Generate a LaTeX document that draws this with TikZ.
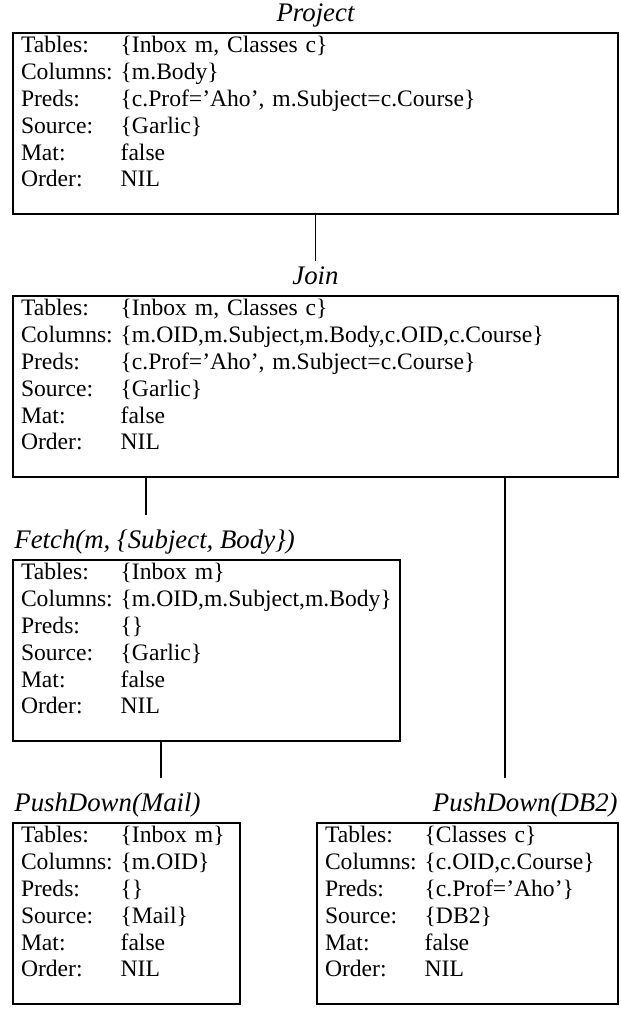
\documentclass[tikz,border=0pt]{standalone}
\usepackage{fontspec}
\setmainfont{Liberation Serif}
\usepackage{tikz}
\usetikzlibrary{positioning}
\newcommand{\opfields}[4]{%
  \begin{tabular}{@{}l@{\ }l@{}}
    Tables: & #1\\
    Columns: & #2\\
    Preds: & #3\\
    Source: & #4\\
    Mat: & false\\
    Order: & NIL\\[8.9pt]
  \end{tabular}}

\begin{document}
\begin{tikzpicture}[
  opbox/.style={draw, line width=1.2pt, inner xsep=4pt, inner ysep=0.6pt, outer sep=0pt, align=left, font=\fontsize{11.8pt}{13.4pt}\selectfont},
  optitle/.style={inner sep=0pt, font=\fontsize{13.4pt}{15pt}\selectfont\itshape},
  link/.style={line width=0.9pt},
  node distance=41pt
]
\useasboundingbox (0,0) rectangle (310.5pt,-504.5pt);

\node[opbox, text width=294.5pt, anchor=north west] (project) at (6.5pt,-16.5pt)
  {\opfields{\{Inbox m, Classes c\}}{\{m.Body\}}{\{c.Prof='Aho', m.Subject=c.Course\}}{\{Garlic\}}};
\node[opbox, text width=294.5pt, below=of project] (join)
  {\opfields{\{Inbox m, Classes c\}}{\{m.OID,m.Subject,m.Body,c.OID,c.Course\}}{\{c.Prof='Aho', m.Subject=c.Course\}}{\{Garlic\}}};
\node[opbox, text width=185.5pt, below=41.5pt of join.south west, anchor=north west] (fetch)
  {\opfields{\{Inbox m\}}{\{m.OID,m.Subject,m.Body\}}{\{\}}{\{Garlic\}}};
\node[opbox, text width=105.5pt, below=of fetch.south west, anchor=north west] (mail)
  {\opfields{\{Inbox m\}}{\{m.OID\}}{\{\}}{\{Mail\}}};
\node[opbox, text width=142.5pt, anchor=north east] (db2) at (mail.north -| join.east)
  {\opfields{\{Classes c\}}{\{c.OID,c.Course\}}{\{c.Prof='Aho'\}}{\{DB2\}}};

\node[optitle, above=6pt of project.north, anchor=base] (projectlbl) {Project};
\node[optitle, above=6pt of join.north, anchor=base] (joinlbl) {Join};
\node[optitle, above right=6pt and 0.5pt of fetch.north west, anchor=base west] (fetchlbl) {Fetch(m, \{Subject, Body\})};
\node[optitle, above right=6pt and 0.5pt of mail.north west, anchor=base west] (maillbl) {PushDown(Mail)};
\node[optitle, above left=6pt and 0pt of db2.north east, anchor=base east] (db2lbl) {PushDown(DB2)};

\coordinate[below=23.5pt of project.south] (stubjoin);
\coordinate[below right=19pt and 66.5pt of join.south west] (stubfetch);
\coordinate[below right=18.5pt and 74pt of fetch.south west] (stubmail);
\coordinate[above right=22.5pt and 94pt of db2.north west] (stubdb);

\draw[link] (project.south) -- (stubjoin);
\draw[link] (join.south west -| stubfetch) -- (stubfetch);
\draw[link] (fetch.south west -| stubmail) -- (stubmail);
\draw[link] (join.south -| stubdb) -- (stubdb);

\end{tikzpicture}
\end{document}
